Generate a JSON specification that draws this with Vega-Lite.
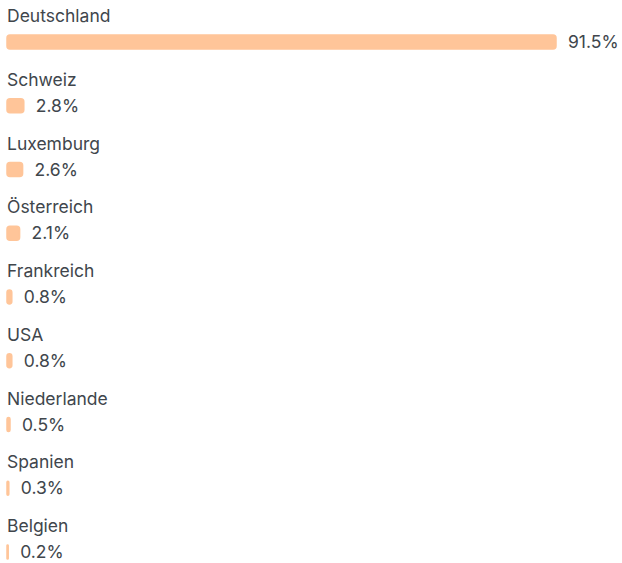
{
  "$schema": "https://vega.github.io/schema/vega-lite/v6.json",
  "width": 622,
  "height": 563,
  "autosize": "none",
  "padding": 0,
  "background": "white",
  "config": {"view": {"stroke": null}, "font": "Inter"},
  "data": {"values": [
    {"country": "Deutschland", "value": 91.5},
    {"country": "Schweiz", "value": 2.8},
    {"country": "Luxemburg", "value": 2.6},
    {"country": "Österreich", "value": 2.1},
    {"country": "Frankreich", "value": 0.8},
    {"country": "USA", "value": 0.8},
    {"country": "Niederlande", "value": 0.5},
    {"country": "Spanien", "value": 0.3},
    {"country": "Belgien", "value": 0.2}
  ]},
  "encoding": {
    "y": {"field": "country", "type": "nominal", "sort": null, "axis": null,
          "scale": {"range": [10.125, 583.875], "paddingInner": 0, "paddingOuter": 0}},
    "x": {"field": "value", "type": "quantitative", "axis": null,
          "scale": {"domain": [0, 91.5], "range": [7, 556], "nice": false, "zero": true}}
  },
  "layer": [
    {
      "mark": {"type": "bar", "height": 14, "cornerRadius": 3, "color": "#FFC599", "stroke": "#FFC599", "strokeWidth": 1.5}
    },
    {
      "transform": [{"calculate": "format(datum.value, '.1f') + '%'", "as": "label"}],
      "mark": {"type": "text", "align": "left", "baseline": "middle", "dx": 12, "dy": 1, "fontSize": 17.5, "color": "#40464c"},
      "encoding": {
        "text": {"field": "label", "type": "nominal"}
      }
    },
    {
      "mark": {"type": "text", "align": "left", "baseline": "middle", "dy": -25, "fontSize": 17.5, "color": "#40464c"},
      "encoding": {
        "x": {"value": 7},
        "text": {"field": "country", "type": "nominal"}
      }
    }
  ]
}
